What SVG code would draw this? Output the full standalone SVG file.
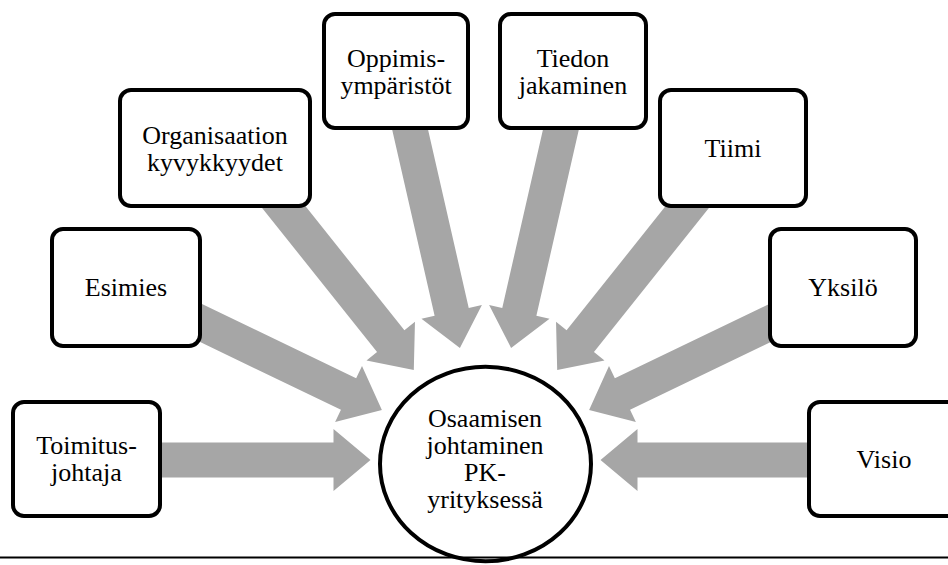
<svg xmlns="http://www.w3.org/2000/svg" xmlns:xlink="http://www.w3.org/1999/xlink" width="948" height="565" viewBox="0 0 948 565">
  <style>
    .box { fill: #ffffff; stroke: #000000; stroke-width: 4; }
    .hub { fill: #ffffff; stroke: #000000; stroke-width: 4; }
    .arrow { fill: #a6a6a6; stroke: none; }
    text { font-family: "Liberation Serif", "Times New Roman", serif; font-size: 26px; fill: #000000; text-anchor: middle; }
  </style>
  <defs>
    <!-- block arrow pointing along +x, tail far from the hub, tip near it -->
    <path id="blockArrow" class="arrow" d="M-345,-17.5 H-152 V-31 L-115,0 L-152,31 V17.5 H-345 Z"/>
  </defs>

  <rect width="948" height="565" fill="#ffffff"/>

  <g id="connectors">
    <use xlink:href="#blockArrow" transform="translate(485.5,460) rotate(0)"/>
    <use xlink:href="#blockArrow" transform="translate(485.5,460) rotate(25.714)"/>
    <use xlink:href="#blockArrow" transform="translate(485.5,460) rotate(51.429)"/>
    <use xlink:href="#blockArrow" transform="translate(485.5,460) rotate(77.143)"/>
    <use xlink:href="#blockArrow" transform="translate(485.5,460) rotate(102.857)"/>
    <use xlink:href="#blockArrow" transform="translate(485.5,460) rotate(128.571)"/>
    <use xlink:href="#blockArrow" transform="translate(485.5,460) rotate(154.286)"/>
    <use xlink:href="#blockArrow" transform="translate(485.5,460) rotate(180)"/>
  </g>

  <g id="toimitusjohtaja">
    <rect class="box" x="13" y="402" width="147" height="114" rx="11"/>
    <text x="86.5" y="454">Toimitus-</text>
    <text x="86.5" y="481">johtaja</text>
  </g>

  <g id="esimies">
    <rect class="box" x="52" y="229" width="148" height="117" rx="11"/>
    <text x="126" y="296">Esimies</text>
  </g>

  <g id="organisaation-kyvykkyydet">
    <rect class="box" x="120" y="90" width="190" height="116" rx="11"/>
    <text x="215" y="144">Organisaation</text>
    <text x="215" y="171">kyvykkyydet</text>
  </g>

  <g id="oppimisymparistot">
    <rect class="box" x="324" y="14" width="144" height="114" rx="11"/>
    <text x="396" y="67">Oppimis-</text>
    <text x="396" y="94">ympäristöt</text>
  </g>

  <g id="tiedon-jakaminen">
    <rect class="box" x="500" y="14" width="146" height="114" rx="11"/>
    <text x="573" y="67">Tiedon</text>
    <text x="573" y="94">jakaminen</text>
  </g>

  <g id="tiimi">
    <rect class="box" x="660" y="90" width="146" height="116" rx="11"/>
    <text x="733" y="157">Tiimi</text>
  </g>

  <g id="yksilo">
    <rect class="box" x="770" y="229" width="146" height="117" rx="11"/>
    <text x="843" y="296">Yksilö</text>
  </g>

  <g id="visio">
    <rect class="box" x="809" y="402" width="150" height="114" rx="11"/>
    <text x="884" y="468">Visio</text>
  </g>

  <g id="osaamisen-johtaminen">
    <ellipse class="hub" cx="485.5" cy="464" rx="105.5" ry="97.3"/>
    <text x="485" y="427">Osaamisen</text>
    <text x="485" y="454">johtaminen</text>
    <text x="485" y="481">PK-</text>
    <text x="485" y="508">yrityksessä</text>
  </g>

  <line x1="0" y1="557.5" x2="948" y2="557.5" stroke="#000000" stroke-width="2"/>
</svg>
